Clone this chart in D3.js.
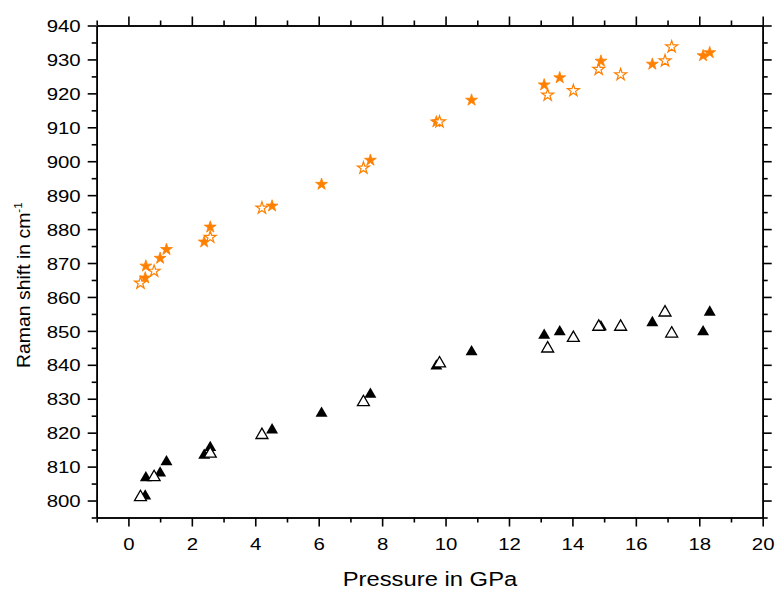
<!DOCTYPE html>
<html>
<head>
<meta charset="utf-8">
<script src="https://cdn.jsdelivr.net/npm/d3@7"></script>
<style>
  body { margin: 0; background: #fff; }
  text { font-family: "Liberation Sans", Arial, sans-serif; }
</style>
</head>
<body>
<div id="chart"></div>
<script>
// data
// filled markers (stars above, triangles below share the same pressures)
var pressureFilled = [0.53, 0.55, 1.0, 1.2, 2.39, 2.58, 4.53, 6.09, 7.63, 9.71, 10.82, 13.11, 13.6, 14.9, 16.52, 18.12, 18.33];
var shiftFilledHigh = [865.6, 869.1, 871.4, 874.0, 876.2, 880.6, 886.8, 893.2, 900.3, 911.6, 918.0, 922.5, 924.6, 929.5, 928.6, 931.1, 932.0];
var shiftFilledLow  = [801.3, 806.7, 808.1, 811.4, 813.3, 815.6, 820.8, 825.7, 831.3, 839.6, 843.8, 848.7, 849.7, 851.2, 852.4, 849.7, 855.5];
// open markers
var pressureOpen = [0.38, 0.81, 2.58, 4.21, 7.41, 9.81, 13.22, 14.03, 14.83, 15.52, 16.92, 17.13];
var shiftOpenHigh = [864.1, 867.6, 877.6, 886.2, 898.0, 911.6, 919.5, 920.8, 927.1, 925.5, 929.6, 933.7];
var shiftOpenLow  = [801.0, 806.9, 813.8, 819.3, 829.0, 840.4, 844.8, 847.9, 851.2, 851.2, 855.4, 849.2];

var xMajor = [0, 2, 4, 6, 8, 10, 12, 14, 16, 18, 20];
var xMinor = [-1, 1, 3, 5, 7, 9, 11, 13, 15, 17, 19];
var yMajor = [800, 810, 820, 830, 840, 850, 860, 870, 880, 890, 900, 910, 920, 930, 940];
var yMinor = [795, 805, 815, 825, 835, 845, 855, 865, 875, 885, 895, 905, 915, 925, 935];

var orange = "#ff8000";

var svg = d3.select("#chart")
  .append("svg")
    .attr("width", 776)
    .attr("height", 590);

var x = d3.scaleLinear()
  .domain([-1, 20])
  .range([96.7, 762.7]);

var y = d3.scaleLinear()
  .domain([795, 940])
  .range([517.5, 25.5]);

// frame edges (note: "top" is taken by window.top)
var plotLeft = x.range()[0], plotRight = x.range()[1];
var plotTop = y.range()[1], plotBottom = y.range()[0];

// major + minor ticks on all four sides
function drawAxis(axisFn, scale, translate, major, minor, labels) {
  var gMinor = svg.append("g")
    .attr("transform", translate)
    .call(axisFn(scale).tickValues(minor).tickSize(5).tickSizeOuter(0).tickFormat(""));
  var gMajor = svg.append("g")
    .attr("transform", translate)
    .call(axisFn(scale).tickValues(major).tickSize(9).tickSizeOuter(0)
      .tickFormat(labels ? d3.format("d") : ""));
  [gMinor, gMajor].forEach(function(g) {
    g.selectAll("path, line").attr("stroke", "#000").attr("stroke-width", 1.6);
  });
  return gMajor;
}

var gx = drawAxis(d3.axisBottom, x, "translate(0," + plotBottom + ")", xMajor, xMinor, true);
drawAxis(d3.axisTop, x, "translate(0," + plotTop + ")", xMajor, xMinor, false);
var gy = drawAxis(d3.axisLeft, y, "translate(" + plotLeft + ",0)", yMajor, yMinor, true);
drawAxis(d3.axisRight, y, "translate(" + plotRight + ",0)", yMajor, yMinor, false);

// tick labels are a little wide in the original
gx.selectAll("text")
  .attr("y", 32.5)
  .attr("dy", 0)
  .attr("transform", "scale(1.2,1)")
  .style("font-size", "17px")
  .attr("fill", "#000");
gy.selectAll("text")
  .attr("x", -16 / 1.2)
  .attr("dy", "0.36em")
  .attr("transform", "scale(1.2,1)")
  .style("font-size", "17px")
  .attr("fill", "#000");

// axis titles
svg.append("text")
  .attr("transform", "translate(342.7,586) scale(1.22,1)")
  .style("font-size", "19.5px")
  .text("Pressure in GPa");

var yTitle = svg.append("text")
  .attr("transform", "translate(30,368) rotate(-90) scale(1.05,1)")
  .style("font-size", "18.5px");
yTitle.append("tspan").text("Raman shift in cm");
yTitle.append("tspan")
  .attr("dy", "-0.75em")
  .style("font-size", "11px")
  .text("-1");

// markers
var star = d3.symbol().type(d3.symbolStar).size(44);
var tri = d3.symbol().type(d3.symbolTriangle).size(62);

var filled = pressureFilled.map(function(p, i) {
  return {p: p, high: shiftFilledHigh[i], low: shiftFilledLow[i]};
});
var open = pressureOpen.map(function(p, i) {
  return {p: p, high: shiftOpenHigh[i], low: shiftOpenLow[i]};
});

svg.selectAll("myFilledTri")
  .data(filled)
  .enter()
  .append("path")
    .attr("d", tri)
    .attr("transform", function(d) { return "translate(" + x(d.p) + "," + y(d.low) + ")"; })
    .attr("fill", "#000");

svg.selectAll("myOpenTri")
  .data(open)
  .enter()
  .append("path")
    .attr("d", tri)
    .attr("transform", function(d) { return "translate(" + x(d.p) + "," + y(d.low) + ")"; })
    .attr("fill", "#fff")
    .attr("stroke", "#000")
    .attr("stroke-width", 1.3);

svg.selectAll("myFilledStar")
  .data(filled)
  .enter()
  .append("path")
    .attr("d", star)
    .attr("transform", function(d) { return "translate(" + x(d.p) + "," + y(d.high) + ")"; })
    .attr("fill", orange)
    .attr("stroke", orange)
    .attr("stroke-width", 0.8);

svg.selectAll("myOpenStar")
  .data(open)
  .enter()
  .append("path")
    .attr("d", star)
    .attr("transform", function(d) { return "translate(" + x(d.p) + "," + y(d.high) + ")"; })
    .attr("fill", "#fff")
    .attr("stroke", orange)
    .attr("stroke-width", 1.2);
</script>
</body>
</html>
